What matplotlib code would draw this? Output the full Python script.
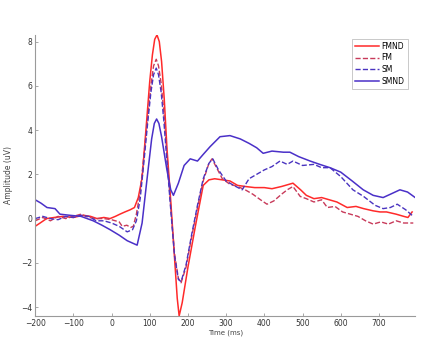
import numpy as np
import matplotlib.pyplot as plt

# time points (ms) and amplitudes (uV)
t_fmnd = [-200, -187, -170, -150, -127, -100, -74, -55, -38, -20, -4, 10, 22, 35, 49, 60, 70, 80,
          90, 100, 107, 113, 119, 125, 131, 138, 145, 155, 165, 172, 177, 185, 200, 220, 240, 255, 270,
          290, 310, 330, 350, 375, 400, 420, 445, 475, 495, 510, 530, 550, 570, 590, 617, 640,
          660, 685, 703, 720, 745, 765, 776, 787]
fmnd = [-0.35, -0.2, 0.0, 0.05, 0.1, 0.05, 0.15, 0.1, 0.0, 0.05, 0.0, 0.1, 0.2, 0.3, 0.4, 0.5, 0.95, 1.84,
        4.0, 6.2, 7.4, 8.1, 8.3, 8.0, 7.1, 5.4, 3.2, 0.8, -1.8, -3.6, -4.4, -3.8, -2.2, -0.3, 1.5, 1.75, 1.8,
        1.75, 1.7, 1.5, 1.45, 1.4, 1.4, 1.35, 1.45, 1.6, 1.3, 1.05, 0.9, 0.95, 0.85, 0.75, 0.5, 0.55,
        0.45, 0.35, 0.3, 0.3, 0.2, 0.1, 0.05, 0.3]

t_fm = [-200, -180, -160, -140, -120, -100, -80, -60, -40, -20, 0, 20, 28, 40, 50, 57, 65, 75, 85,
        95, 103, 110, 117, 123, 130, 137, 145, 155, 165, 175, 182, 195, 210, 225, 240, 255, 263, 275, 290,
        310, 330, 350, 370, 390, 407, 425, 445, 460, 475, 494, 510, 530, 550, 565, 585, 605, 625,
        645, 665, 685, 705, 725, 745, 765, 790]
fm = [-0.1, 0.05, -0.1, 0.1, 0.0, 0.1, 0.2, 0.05, 0.0, 0.0, -0.05, -0.15, -0.35, -0.3, -0.4, -0.35, 0.2, 1.2, 2.9,
      4.6, 6.0, 6.9, 7.2, 6.9, 6.1, 4.8, 2.9, 0.5, -1.6, -2.7, -2.9, -2.2, -0.8, 0.5, 1.7, 2.5, 2.7, 2.3, 1.8,
      1.55, 1.45, 1.3, 1.1, 0.85, 0.65, 0.8, 1.1, 1.3, 1.45, 1.0, 0.9, 0.75, 0.85, 0.5, 0.55, 0.3, 0.2,
      0.1, -0.1, -0.25, -0.15, -0.25, -0.1, -0.2, -0.2]

t_sm = [-200, -180, -160, -140, -120, -100, -80, -60, -40, -20, 0, 20, 41, 55, 65, 75, 85, 95,
        103, 110, 117, 123, 130, 137, 145, 155, 165, 175, 182, 195, 210, 225, 240, 255, 265, 280, 300,
        320, 342, 360, 380, 400, 420, 441, 460, 475, 500, 530, 550, 572, 600, 632, 660, 690, 711,
        730, 748, 770, 790]
sm = [0.0, 0.1, 0.0, -0.05, 0.1, 0.05, 0.15, 0.1, -0.1, -0.1, -0.2, -0.35, -0.6, -0.5, -0.1, 0.9, 2.6, 4.4,
      5.7, 6.5, 6.8, 6.5, 5.7, 4.4, 2.6, 0.4, -1.7, -2.75, -2.85, -2.1, -0.7, 0.6, 1.8, 2.5, 2.7, 2.2, 1.7,
      1.5, 1.3, 1.8, 2.0, 2.2, 2.35, 2.6, 2.45, 2.6, 2.4, 2.45, 2.3, 2.3, 1.9, 1.3, 1.0, 0.6, 0.45,
      0.5, 0.65, 0.4, 0.1]

t_smnd = [-200, -185, -169, -148, -135, -110, -80, -48, -25, -4, 20, 41, 67, 80, 93, 105, 112, 118, 124, 131,
          145, 155, 162, 175, 190, 206, 225, 240, 258, 284, 310, 337, 360, 380, 397, 420, 450,
          467, 490, 520, 545, 572, 600, 630, 659, 685, 711, 730, 755, 775, 795]
smnd = [0.85, 0.7, 0.5, 0.45, 0.2, 0.15, 0.1, -0.1, -0.3, -0.5, -0.75, -1.0, -1.2, -0.2, 1.8, 3.6, 4.3, 4.5, 4.3, 3.7,
        2.2, 1.3, 1.05, 1.6, 2.4, 2.7, 2.6, 2.9, 3.25, 3.7, 3.75, 3.6, 3.4, 3.2, 2.95, 3.05, 3.0,
        3.0, 2.8, 2.6, 2.45, 2.3, 2.1, 1.7, 1.3, 1.05, 0.95, 1.1, 1.3, 1.2, 0.95]

plt.rcParams['font.family'] = 'DejaVu Sans'
fig = plt.figure(figsize=(4.45, 3.39), dpi=100)
ax = fig.add_axes([0.079, 0.068, 0.854, 0.829])

ax.plot(t_fmnd, fmnd, '-', color='#ff2a2a', lw=1.1, label='FMND')
ax.plot(t_fm, fm, '--', color='#c83a5a', lw=1.0, label='FM')
ax.plot(t_sm, sm, '--', color='#4a34c0', lw=1.0, label='SM')
ax.plot(t_smnd, smnd, '-', color='#4a30c8', lw=1.1, label='SMND')

ax.set_xlim(-200, 795)
ax.set_ylim(-4.4, 8.3)
ax.set_xticks(range(-200, 701, 100))
ax.set_yticks(range(-4, 9, 2))
for s in ['top', 'right']:
    ax.spines[s].set_visible(False)
for s in ['left', 'bottom']:
    ax.spines[s].set_color('#9a9a9a')
    ax.spines[s].set_linewidth(0.8)
ax.tick_params(direction='in', length=2, width=0.6, colors='#9a9a9a',
               labelsize=5.5, labelcolor='#333333', pad=2)
ax.set_ylabel('Amplitude (uV)', fontsize=5.5, color='#444444', labelpad=6)
ax.set_xlabel('Time (ms)', fontsize=5, color='#444444')
ax.xaxis.set_label_coords(0.5, -0.048)

leg = ax.legend(loc='upper right', bbox_to_anchor=(0.99, 1.0), fontsize=5.5,
                handlelength=3.2, frameon=True, fancybox=False, borderpad=0.4,
                labelspacing=0.35, handletextpad=0.3)
leg.get_frame().set_edgecolor('#b0b0b0')
leg.get_frame().set_linewidth(0.6)

fig.savefig('out.png', dpi=100)
